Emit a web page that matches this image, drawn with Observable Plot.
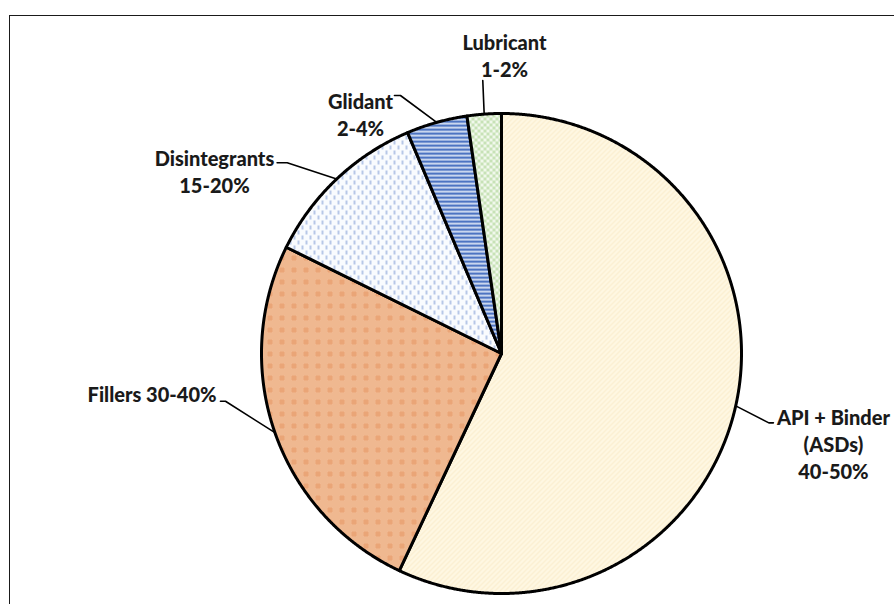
<!DOCTYPE html>
<html>
<head>
<meta charset="utf-8">
<script src="https://cdn.jsdelivr.net/npm/d3@7"></script>
<script src="https://cdn.jsdelivr.net/npm/@observablehq/plot@0.6"></script>
<style>
  html, body { margin: 0; padding: 0; background: #fff; overflow: hidden; width: 894px; height: 604px; }
  #frame { position: absolute; left: 9px; top: 15px; width: 1000px; height: 1000px; border: 1.5px solid #1a1a1a; box-sizing: border-box; }
  #chart { position: absolute; left: 0; top: 0; }
</style>
</head>
<body>
<div id="frame"></div>
<div id="chart"></div>
<script>
// ---- data ----
const categories = ["API + Binder", "Fillers", "Disintegrants", "Glidant", "Lubricant"];
const shares = [57.0, 25.3, 11.3, 4.1, 2.3];
const labelTexts = ["API + Binder\n(ASDs)\n40-50%", "Fillers 30-40%", "Disintegrants\n15-20%", "Glidant\n2-4%", "Lubricant\n1-2%"];
const patternIds = ["p-api", "p-fill", "p-dis", "p-gli", "p-lub"];

// ---- label layout (in pie units, radius = 1) ----
const labelX = [1.383, -1.456, -1.196, -0.5875, 0.0125];
const labelY = [-0.373, -0.1667, 0.760, 1.0, 1.246];
const kneeX = [1.114, -1.150, -0.893, -0.421, -0.078];
const kneeY = [-0.289, -0.199, 0.795, 1.075, 1.1375];
const stubX = [1.133, -1.171, -0.935, -0.446, -0.078];
const stubY = [-0.289, -0.199, 0.795, 1.075, 1.1375];

const rows = categories.map((c, i) => ({cat: c, share: shares[i], pat: `url(#${patternIds[i]})`, i}));
const arcs = d3.pie().sort(null).value(d => d.share)(rows);

const slicePts = arcs.flatMap(s => {
  const pts = [{k: s.data.cat, pat: s.data.pat, x: 0, y: 0}];
  const n = Math.max(4, Math.ceil((s.endAngle - s.startAngle) / 0.004));
  for (let j = 0; j <= n; j++) {
    const a = s.startAngle + (s.endAngle - s.startAngle) * j / n;
    pts.push({k: s.data.cat, pat: s.data.pat, x: Math.sin(a), y: Math.cos(a)});
  }
  pts.push({k: s.data.cat, pat: s.data.pat, x: 0, y: 0});
  return pts;
});

const leaderPts = arcs.flatMap(s => {
  const i = s.data.i;
  const m = (s.startAngle + s.endAngle) / 2;
  return [
    {k: s.data.cat, x: Math.sin(m), y: Math.cos(m)},
    {k: s.data.cat, x: kneeX[i], y: kneeY[i]},
    {k: s.data.cat, x: stubX[i], y: stubY[i]}
  ];
});

const labels = categories.map((c, i) => ({x: labelX[i], y: labelY[i], t: labelTexts[i]}));

const svg = Plot.plot({
  width: 894,
  height: 604,
  margin: 0,
  x: {domain: [-1, 1], range: [261, 741], axis: null},
  y: {domain: [-1, 1], range: [593, 113], axis: null},
  color: {type: "identity"},
  marks: [
    Plot.line(slicePts, {x: "x", y: "y", z: "k", fill: "pat", stroke: "#000", strokeWidth: 3, strokeLinejoin: "round", curve: "linear"}),
    Plot.line(leaderPts, {x: "x", y: "y", z: "k", stroke: "#000", strokeWidth: 1.6, curve: "linear"}),
    Plot.text(labels, {x: "x", y: "y", text: "t", fontSize: 20, fontWeight: 900, fontFamily: "Lato, 'Open Sans', sans-serif", fill: "#1a1a1a", lineHeight: 1.35, textAnchor: "middle"})
  ]
});
svg.style.background = "transparent";

// patterns
const defs = d3.create("svg:defs");
// API: cream with faint diagonal stripes
{
  const p = defs.append("pattern").attr("id", "p-api").attr("patternUnits", "userSpaceOnUse").attr("width", 5).attr("height", 5);
  p.append("rect").attr("width", 5).attr("height", 5).attr("fill", "#fef7e2");
  p.append("path").attr("d", "M0,5L5,0M-1,1L1,-1M4,6L6,4").attr("stroke", "#f7e6c0").attr("stroke-width", 0.9);
}
// Fillers: orange fine checker with blocks
{
  const p = defs.append("pattern").attr("id", "p-fill").attr("patternUnits", "userSpaceOnUse").attr("width", 12).attr("height", 12);
  p.append("rect").attr("width", 12).attr("height", 12).attr("fill", "#f8d6bd");
  for (let yy = 0; yy < 12; yy += 2) for (let xx = 0; xx < 12; xx += 2) {
    p.append("rect").attr("x", xx).attr("y", yy).attr("width", 1).attr("height", 1).attr("fill", "#e69a63");
    p.append("rect").attr("x", xx + 1).attr("y", yy + 1).attr("width", 1).attr("height", 1).attr("fill", "#e69a63");
  }
  p.append("rect").attr("x", 3).attr("y", 3).attr("width", 5).attr("height", 5).attr("fill", "#e9a070").attr("opacity", 0.8);
}
// Disintegrants: white with blue vertical dashes
{
  const p = defs.append("pattern").attr("id", "p-dis").attr("patternUnits", "userSpaceOnUse").attr("width", 8).attr("height", 10);
  p.append("rect").attr("width", 8).attr("height", 10).attr("fill", "#f9fbfe");
  p.append("path").attr("d", "M2,0V4M6,5V9").attr("stroke", "#6486cc").attr("stroke-width", 0.9);
}
// Glidant: horizontal blue stripes
{
  const p = defs.append("pattern").attr("id", "p-gli").attr("patternUnits", "userSpaceOnUse").attr("width", 4).attr("height", 4);
  p.append("rect").attr("width", 4).attr("height", 4).attr("fill", "#e8eef9");
  p.append("rect").attr("y", 0).attr("width", 4).attr("height", 2.4).attr("fill", "#4d74c2");
}
// Lubricant: green checker
{
  const p = defs.append("pattern").attr("id", "p-lub").attr("patternUnits", "userSpaceOnUse").attr("width", 6).attr("height", 6);
  p.append("rect").attr("width", 6).attr("height", 6).attr("fill", "#f1f8ec");
  p.append("rect").attr("width", 3).attr("height", 3).attr("fill", "#c7e2b6");
  p.append("rect").attr("x", 3).attr("y", 3).attr("width", 3).attr("height", 3).attr("fill", "#c7e2b6");
}
svg.insertBefore(defs.node(), svg.firstChild);
document.getElementById("chart").appendChild(svg);
</script>
</body>
</html>
